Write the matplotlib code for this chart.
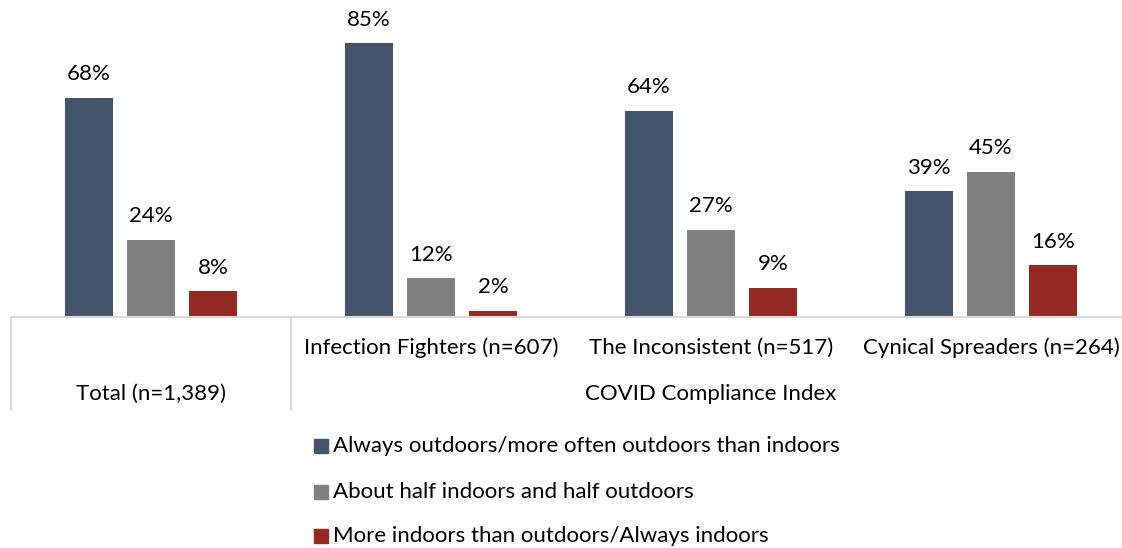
import matplotlib

matplotlib.use("Agg")
import matplotlib.pyplot as plt
import numpy as np
from matplotlib.lines import Line2D
from matplotlib.patches import Rectangle

plt.rcParams["font.family"] = ["Lato", "DejaVu Sans"]

categories = ["", "Infection Fighters (n=607)", "The Inconsistent (n=517)", "Cynical Spreaders (n=264)"]
series_names = [
    "Always outdoors/more often outdoors than indoors",
    "About half indoors and half outdoors",
    "More indoors than outdoors/Always indoors",
]
outdoors = [68, 85, 64, 39]
half = [24, 12, 27, 45]
indoors = [8, 2, 9, 16]
colors = ["#44546A", "#808080", "#952A25"]

W, H = 1122, 548
FS = 16
fig = plt.figure(figsize=(W / 100, H / 100), dpi=100)
# axes spans past the right edge like the original crop
ax = fig.add_axes([11 / W, (H - 317) / H, 1120 / W, 317 / H])
ax.set_xlim(-0.5, 3.5)
ax.set_ylim(0, 317 / 3.22)
ax.axis("off")

x = np.arange(len(categories))
step = 62 / 280
width = 48 / 280
for i, (vals, c) in enumerate(zip([outdoors, half, indoors], colors)):
    pos = x + (i - 1) * step
    ax.bar(pos, vals, width=width, color=c, zorder=2)
    for p, v in zip(pos, vals):
        ax.annotate(f"{v}%", (p, v), xytext=(0, 17), textcoords="offset points",
                    ha="center", va="center", fontsize=FS, color="#000000")

grid = "#D9D9D9"
fig.add_artist(Line2D([11 / W, 1], [(H - 317) / H] * 2, color=grid, lw=1.5))
for xv in (11, 291):
    fig.add_artist(Line2D([xv / W] * 2, [(H - 317) / H, (H - 410) / H], color=grid, lw=1.5))

for i, cat in enumerate(categories):
    if cat:
        ax.text(i, -31 * 98.4 / 317, cat, ha="center", va="center", fontsize=FS)
fig.text(151 / W, (H - 394) / H, "Total (n=1,389)", ha="center", va="center", fontsize=FS)
fig.text(711 / W, (H - 394) / H, "COVID Compliance Index", ha="center", va="center", fontsize=FS)

for name, c, yv in zip(series_names, colors, [446, 492, 536]):
    fig.add_artist(Rectangle((314 / W, (H - yv - 7) / H), 14 / W, 14 / H, color=c))
    fig.text(333 / W, (H - yv) / H, name, ha="left", va="center", fontsize=FS)

fig.savefig("out.png", dpi=100)
